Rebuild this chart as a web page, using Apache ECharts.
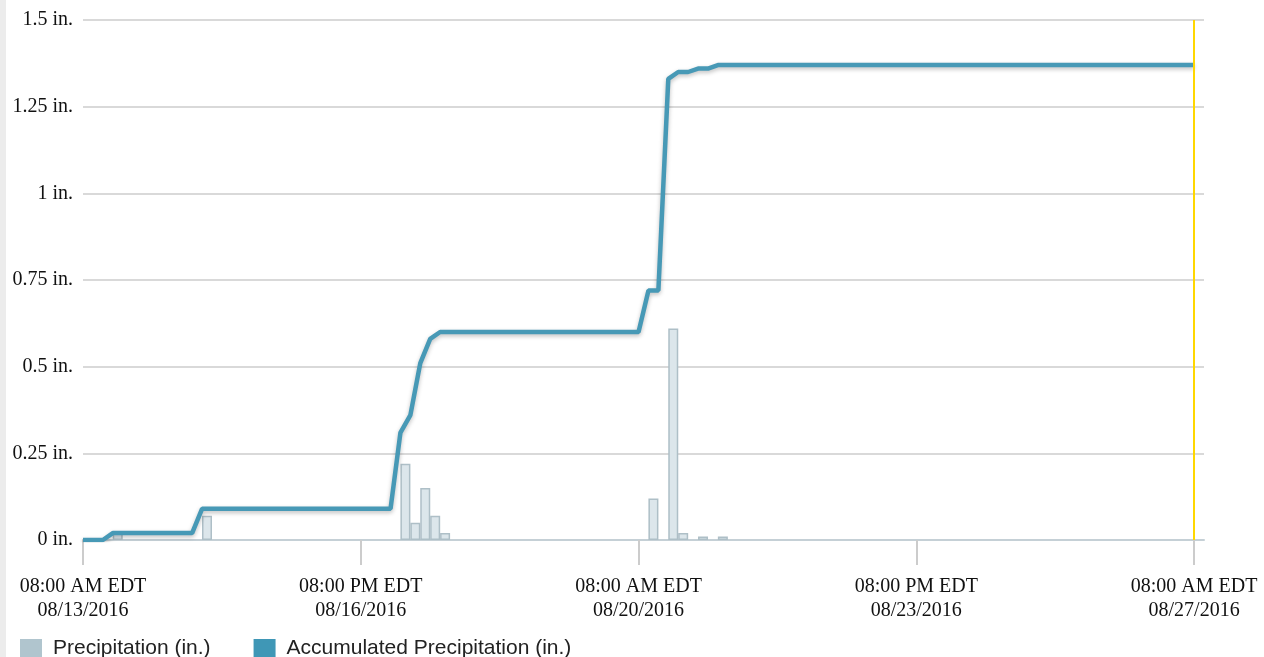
<!DOCTYPE html>
<html>
    <head>
        <meta charset="UTF-8">
        <title>Precipitation</title>
        <script src="https://cdn.jsdelivr.net/npm/echarts@6/dist/echarts.min.js"></script>
        <style>
            body,html{margin:0;padding:0;width:100%;height:100%;background:#fff;}
            #strip{position:absolute;left:0;top:0;width:6px;height:100%;background:#ececec;}
            #chart{position:absolute;left:0;top:0;width:1264px;height:657px;}
        </style>
    </head>
    <body>
        <div id="strip"></div>
        <div id="chart"></div>
        <script type="text/javascript">
          // 3-hour steps counted from 08:00 AM EDT 08/13/2016
          var startTime = Date.UTC(2016, 7, 13, 12, 0); // 08:00 EDT = 12:00 UTC
          var stepHours = 3;
          var stepCount = 112; // 14 days
          var rainSteps   = [3, 12, 32, 33, 34, 35, 36, 57, 59, 60, 62, 64];
          var rainAmounts = [0.02, 0.07, 0.22, 0.05, 0.15, 0.07, 0.02, 0.12, 0.61, 0.02, 0.01, 0.01];
          var rainTotals  = [0.02, 0.09, 0.31, 0.36, 0.51, 0.58, 0.60, 0.72, 1.33, 1.35, 1.36, 1.37];
          var labelDays   = [0, 3.5, 7, 10.5, 14];
          var yTicks      = [0, 0.25, 0.5, 0.75, 1, 1.25, 1.5];

          var HOUR = 3600 * 1000;
          var stepMs = stepHours * HOUR;

          var barData = [];
          for (var k = 0; k < rainSteps.length; k++) {
              // bar covers the 3 hour period starting at its step
              barData.push([startTime + rainSteps[k] * stepMs + stepMs / 2, rainAmounts[k]]);
          }
          var lineData = [];
          var cur = 0, idx = 0;
          for (var i = 0; i <= stepCount; i++) {
              if (idx < rainSteps.length && rainSteps[idx] === i) { cur = rainTotals[idx]; idx++; }
              lineData.push([startTime + i * stepMs, cur]);
          }
          var labelTimes = labelDays.map(function (d) { return startTime + d * 24 * HOUR; });
          var endTime = startTime + stepCount * stepMs;

          function pad(n) { return (n < 10 ? '0' : '') + n; }
          function fmtTime(v) {
              var d = new Date(v - 4 * HOUR); // EDT
              var h = d.getUTCHours();
              var ap = h >= 12 ? 'PM' : 'AM';
              var h12 = h % 12; if (h12 === 0) h12 = 12;
              return pad(h12) + ':' + pad(d.getUTCMinutes()) + ' ' + ap + ' EDT\n' +
                  pad(d.getUTCMonth() + 1) + '/' + pad(d.getUTCDate()) + '/' + d.getUTCFullYear();
          }

          var chart = echarts.init(document.getElementById('chart'));
          var option = {
              animation: false,
              grid: {left: 83, right: 60, top: 20, bottom: 117},
              legend: {
                  left: 15,
                  top: 633,
                  padding: 5,
                  itemWidth: 22,
                  itemHeight: 19,
                  itemGap: 43,
                  textStyle: {fontFamily: 'Liberation Sans', fontSize: 21, color: '#222', padding: [0, 0, 0, 6]},
                  data: [
                      {name: 'Precipitation (in.)', icon: 'rect', itemStyle: {color: '#b0c5ce', borderWidth: 0}},
                      {name: 'Accumulated Precipitation (in.)', icon: 'rect', itemStyle: {color: '#3f97b6', borderWidth: 0}}
                  ]
              },
              xAxis: {
                  type: 'value',
                  min: startTime,
                  max: endTime + stepMs,
                  axisLine: {lineStyle: {color: '#c5d0d6', width: 2}},
                  axisTick: {show: true, length: 25, customValues: labelTimes, lineStyle: {color: '#cccccc', width: 2}},
                  axisLabel: {
                      customValues: labelTimes,
                      formatter: fmtTime,
                      margin: 35,
                      fontFamily: 'Liberation Serif',
                      fontSize: 20,
                      lineHeight: 24,
                      color: '#111'
                  },
                  splitLine: {show: false}
              },
              yAxis: {
                  type: 'value',
                  min: yTicks[0],
                  max: yTicks[yTicks.length - 1],
                  interval: 0.25,
                  axisLine: {show: false},
                  axisTick: {show: false},
                  axisLabel: {
                      formatter: function (v) { return v + ' in.'; },
                      margin: 10,
                      fontFamily: 'Liberation Serif',
                      fontSize: 20,
                      color: '#111'
                  },
                  splitLine: {lineStyle: {color: '#d9d9d9', width: 2}}
              },
              series: [
                  {
                      name: 'Precipitation (in.)',
                      type: 'bar',
                      barWidth: 10,
                      data: barData,
                      itemStyle: {color: '#dce6eb', borderColor: '#aebfc7', borderWidth: 1.5}
                  },
                  {
                      name: 'Accumulated Precipitation (in.)',
                      type: 'line',
                      data: lineData,
                      showSymbol: false,
                      symbol: 'none',
                      lineStyle: {
                          color: '#4799b6',
                          width: 4.5,
                          shadowColor: 'rgba(0,0,0,0.25)',
                          shadowBlur: 4,
                          shadowOffsetY: 2
                      },
                      itemStyle: {color: '#3f97b6'},
                      markLine: {
                          silent: true,
                          symbol: 'none',
                          label: {show: false},
                          lineStyle: {color: '#ffd700', width: 2, type: 'solid'},
                          data: [{xAxis: endTime}]
                      }
                  }
              ]
          };
          chart.setOption(option);
        </script>
    </body>
</html>
